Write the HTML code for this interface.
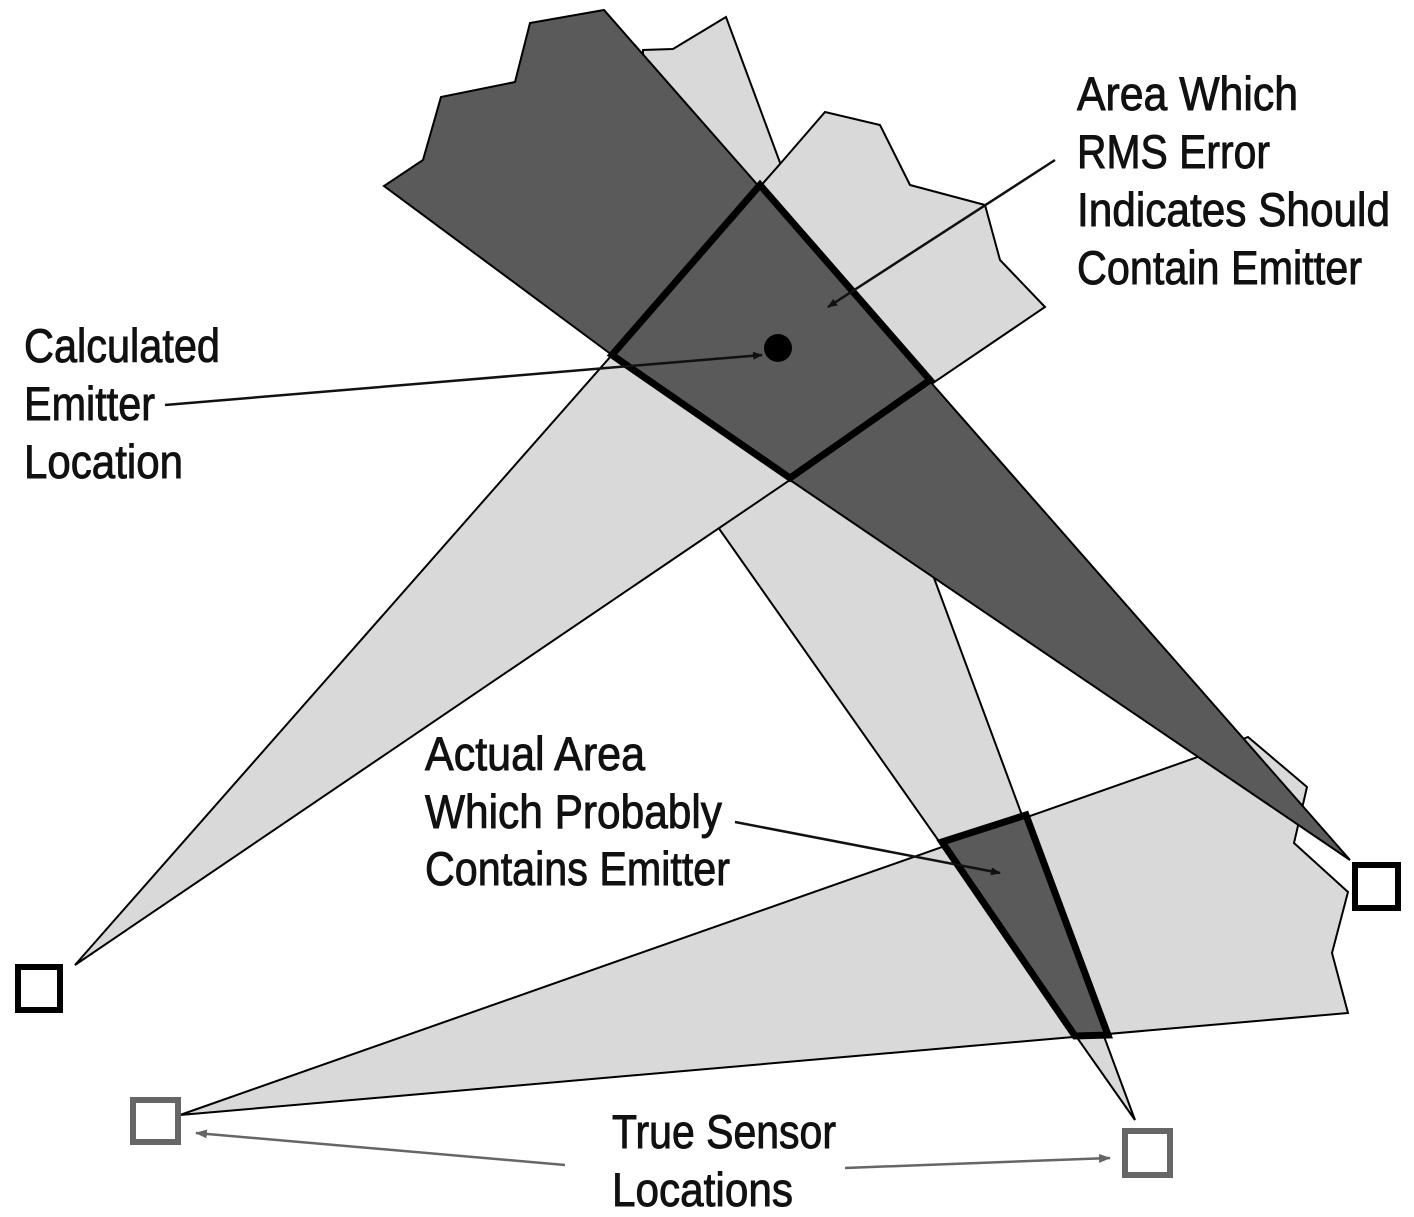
<!DOCTYPE html>
<html><head><meta charset="utf-8"><style>
html,body{margin:0;padding:0;background:#fff;}
svg{display:block;}
text{font-family:"Liberation Sans Narrow","Liberation Sans",sans-serif;font-size:47px;fill:#111;stroke:#111;stroke-width:0.9;}
</style></head><body>
<svg width="1414" height="1217" viewBox="0 0 1414 1217" xmlns="http://www.w3.org/2000/svg">
<defs>
<marker id="ah" markerWidth="10" markerHeight="8" refX="9" refY="4" orient="auto" markerUnits="userSpaceOnUse">
<path d="M0,0 L10,4 L0,8 Z" fill="#111"/></marker>
<marker id="ahg" markerWidth="12" markerHeight="9" refX="11" refY="4.5" orient="auto" markerUnits="userSpaceOnUse">
<path d="M0,0 L12,4.5 L0,9 Z" fill="#666"/></marker>
</defs>
<g stroke="#000" stroke-width="2" stroke-linejoin="miter">
<polygon points="180,1115 1195,758 1248,737 1307,787 1294,843 1348,892 1332,953 1348,1013" fill="#d9d9d9"/>
<polygon points="1135,1120 720,530 640,350 643,50 673,49 726,17" fill="#d9d9d9"/>
<polygon points="75,965 780,164 825,112 880,125 910,185 985,205 1000,260 1045,307" fill="#d9d9d9"/>
<polygon points="1350,860 790,480 612,355 384,186 423,160 441,97 515,82 530,23 604,10" fill="#5a5a5a"/>
</g>
<polygon points="760,185 930,380 790,478 612,355" fill="#5a5a5a" stroke="#000" stroke-width="7" stroke-linejoin="miter"/>
<polygon points="942,842 1026,815 1108,1035 1075,1036" fill="#5a5a5a" stroke="#000" stroke-width="7" stroke-linejoin="miter"/>
<circle cx="778" cy="348" r="14" fill="#000"/>
<rect x="18" y="967" width="42" height="43" fill="#fff" stroke="#000" stroke-width="6"/>
<rect x="1355" y="865" width="43" height="43" fill="#fff" stroke="#000" stroke-width="6"/>
<rect x="133" y="1100" width="45" height="42" fill="#fff" stroke="#666" stroke-width="6"/>
<rect x="1125" y="1131" width="45" height="44" fill="#fff" stroke="#666" stroke-width="6"/>
<line x1="165" y1="405" x2="762" y2="355" stroke="#111" stroke-width="2.5" marker-end="url(#ah)"/>
<line x1="1055" y1="160" x2="828" y2="307" stroke="#111" stroke-width="2.5" marker-end="url(#ah)"/>
<line x1="735" y1="822" x2="1000" y2="873" stroke="#111" stroke-width="2.5" marker-end="url(#ah)"/>
<line x1="565" y1="1165" x2="196" y2="1133" stroke="#666" stroke-width="2.5" marker-end="url(#ahg)"/>
<line x1="845" y1="1168" x2="1110" y2="1158" stroke="#666" stroke-width="2.5" marker-end="url(#ahg)"/>
<text x="1077" y="110" textLength="221" lengthAdjust="spacingAndGlyphs">Area Which</text>
<text x="1077" y="168" textLength="193" lengthAdjust="spacingAndGlyphs">RMS Error</text>
<text x="1077" y="226" textLength="313" lengthAdjust="spacingAndGlyphs">Indicates Should</text>
<text x="1077" y="284" textLength="285" lengthAdjust="spacingAndGlyphs">Contain Emitter</text>
<text x="24" y="362" textLength="196" lengthAdjust="spacingAndGlyphs">Calculated</text>
<text x="24" y="420" textLength="131" lengthAdjust="spacingAndGlyphs">Emitter</text>
<text x="24" y="478" textLength="159" lengthAdjust="spacingAndGlyphs">Location</text>
<text x="425" y="770" textLength="220" lengthAdjust="spacingAndGlyphs">Actual Area</text>
<text x="425" y="828" textLength="297" lengthAdjust="spacingAndGlyphs">Which Probably</text>
<text x="425" y="885" textLength="305" lengthAdjust="spacingAndGlyphs">Contains Emitter</text>
<text x="612" y="1148" textLength="224" lengthAdjust="spacingAndGlyphs">True Sensor</text>
<text x="612" y="1206" textLength="181" lengthAdjust="spacingAndGlyphs">Locations</text>
</svg>
</body></html>
